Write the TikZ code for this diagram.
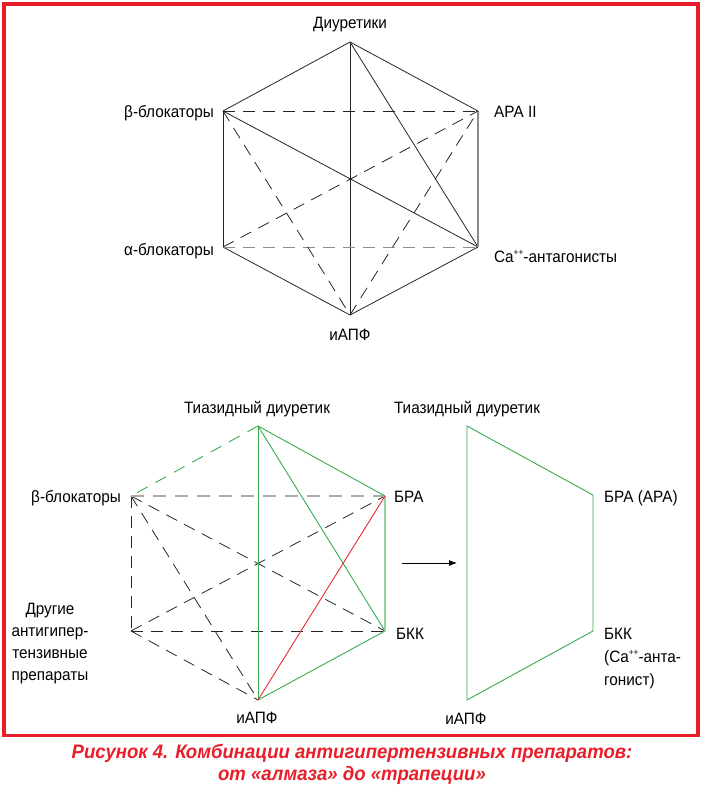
\documentclass[tikz,border=0pt]{standalone}
\usepackage{fontspec}
\setmainfont{Liberation Sans}[FakeStretch=0.93]
\newfontfamily\capfont{Liberation Sans}[FakeStretch=0.95]
\usetikzlibrary{arrows.meta}
\definecolor{frame}{RGB}{232,30,40}
\definecolor{grn}{RGB}{55,170,80}
\definecolor{lgrn}{RGB}{150,210,160}
\definecolor{rd}{RGB}{235,40,45}
\definecolor{gr}{RGB}{140,140,140}
\definecolor{lgr}{RGB}{170,170,170}
\newcommand{\plpl}{\raisebox{0.42em}{\fontsize{9}{9}\selectfont ++}}
\tikzset{
  lbl/.style={inner sep=0pt, font=\fontsize{16.5}{20}\selectfont},
  solidln/.style={line width=0.8bp, black!85},
  dashln/.style={line width=0.8bp, black!85, dash pattern=on 12bp off 8bp},
  gln/.style={line width=0.9bp, grn},
}
\begin{document}
\begin{tikzpicture}[x=1bp,y=-1bp]
\useasboundingbox (0,0) rectangle (704,786);
\draw[frame, line width=3.5bp] (3.8,3.8) rectangle (698,735.6);

% ---------- top hexagon ----------
\coordinate (tD) at (350,42);
\coordinate (tB) at (223,111);
\coordinate (tA) at (478,111);
\coordinate (tAl) at (223,247);
\coordinate (tC) at (478,247);
\coordinate (tI) at (350,315);

\draw[solidln] (tD) -- (tB);
\draw[solidln] (tD) -- (tA);
\draw[solidln] (tB) -- (tAl);
\draw[solidln] (tAl) -- (tI);
\draw[solidln] (tC) -- (tI);
\draw[solidln] (tD) -- (tI);
\draw[solidln] (tD) -- (tC);
\draw[solidln] (tB) -- (tC);
\draw[line width=1.1bp, gr] (tA) -- (tC);
\draw[dashln] (tB) -- (tA);
\draw[dashln, gr] (tAl) -- (tC);
\draw[dashln] (tAl) -- (tA);
\draw[dashln] (tB) -- (tI);
\draw[dashln] (tI) -- (tA);

\node[lbl, anchor=base] (lD) at (350,29) {Диуретики};
\node[lbl, anchor=base east] (lB) at (214,117) {β-блокаторы};
\node[lbl, anchor=base west] (lA) at (494,117) {АРА II};
\node[lbl, anchor=base east] (lAl) at (214,255) {α-блокаторы};
\node[lbl, anchor=base west] (lC) at (494,262) {Ca\plpl-антагонисты};
\node[lbl, anchor=base] (lI) at (350,340) {иАПФ};

% ---------- bottom-left hexagon ----------
\coordinate (bD) at (258,426);
\coordinate (bB) at (131,496);
\coordinate (bR) at (385,496);
\coordinate (bO) at (131,631);
\coordinate (bK) at (385,631);
\coordinate (bI) at (258,700);

\draw[dashln] (bB) -- (bO);
\draw[dashln] (bO) -- (bK);
\draw[dashln] (bO) -- (bI);
\draw[dashln] (bB) -- (bI);
\draw[dashln] (bB) -- (bK);
\draw[dashln] (bO) -- (bR);
\draw[line width=1.6bp, lgr, dash pattern=on 13bp off 9bp] (bB) -- (bR);
\draw[gln, dash pattern=on 12bp off 9bp] (bD) -- (bB);
\draw[gln] (bD) -- (bR);
\draw[gln] (bD) -- (bI);
\draw[gln] (bD) -- (bK);
\draw[gln] (bK) -- (bI);
\draw[line width=2bp, lgrn] (bR) -- (bK);
\draw[line width=0.9bp, rd] (bI) -- (bR);

\node[lbl, anchor=base] (mD) at (257,413) {Тиазидный диуретик};
\node[lbl, anchor=base east] (mB) at (121,502) {β-блокаторы};
\node[lbl, anchor=base west] (mR) at (394,502) {БРА};
\node[lbl, anchor=base, align=center, font=\fontsize{16.5}{22}\selectfont] (mO) at (50,680) {Другие\\антигипер-\\тензивные\\препараты};
\node[lbl, anchor=base west] (mK) at (396,639) {БКК};
\node[lbl, anchor=base] (mI) at (257,723) {иАПФ};

% ---------- arrow ----------
\coordinate (a1) at (402,563);
\coordinate (a2) at (457,563);
\draw[line width=0.9bp, -{Latex[length=8bp,width=6bp]}] (a1) -- (a2);

% ---------- trapezoid ----------
\coordinate (rD) at (467,426);
\coordinate (rR) at (593,495);
\coordinate (rK) at (593,631);
\coordinate (rI) at (467,700);
\draw[gln, line join=miter] (rD) -- (rR) -- (rK) -- (rI) -- cycle;

\node[lbl, anchor=base] (nD) at (467,413) {Тиазидный диуретик};
\node[lbl, anchor=base west] (nR) at (604,502) {БРА (АРА)};
\node[lbl, anchor=base west, align=left, font=\fontsize{16.5}{23}\selectfont] (nK) at (604,685) {БКК\\(Ca\plpl-анта-\\гонист)};
\node[lbl, anchor=base] (nI) at (466,724) {иАПФ};

% ---------- caption ----------
\node[inner sep=0pt, anchor=base, align=center, text=frame, font=\capfont\bfseries\itshape\fontsize{19.6}{21.5}\selectfont] (cap) at (352,780)
  {Рисунок 4. Комбинации антигипертензивных препаратов:\\от «алмаза» до «трапеции»};
\end{tikzpicture}
\end{document}
